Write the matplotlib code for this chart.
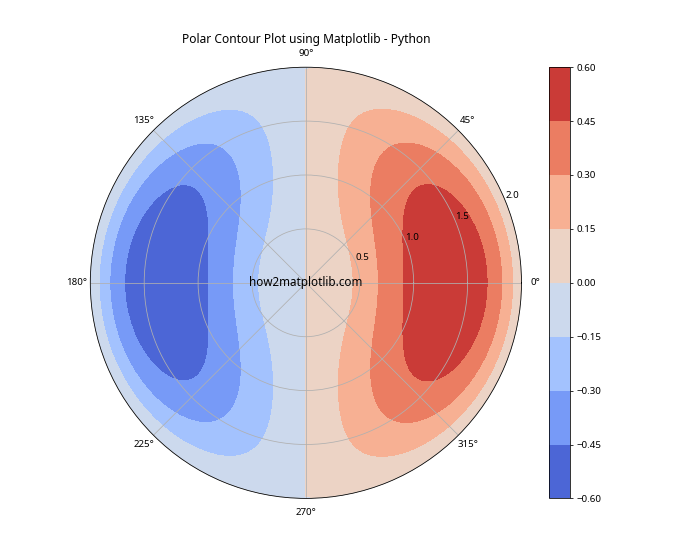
import numpy as np
import matplotlib
matplotlib.use("Agg")
import matplotlib.pyplot as plt

plt.rcParams['font.family'] = ['Noto Sans', 'DejaVu Sans']

# Grid of the field: r in [0, 2], theta over a full turn
r_max = 2.0
n_r = 100
n_theta = 100
r_ticks = [0.5, 1.0, 1.5, 2.0]
r = np.linspace(0, r_max, n_r)
theta = np.linspace(0, 2 * np.pi, n_theta)
R, Theta = np.meshgrid(r, theta)
Z = R**2 * (1 - R / 2) * np.cos(Theta)

fig = plt.figure(figsize=(10, 8), dpi=70)
ax = fig.add_subplot(111, projection='polar')
cs = ax.contourf(Theta, R, Z, cmap='coolwarm')
cbar = fig.colorbar(cs)
ax.set_rticks(r_ticks)
ax.set_rlim(0, r_max)
ax.set_title('Polar Contour Plot using Matplotlib - Python', fontsize=12.3)
ax.text(0, 0, 'how2matplotlib.com', ha='center', va='center', fontsize=12)
fig.savefig('out.png', dpi=70)
